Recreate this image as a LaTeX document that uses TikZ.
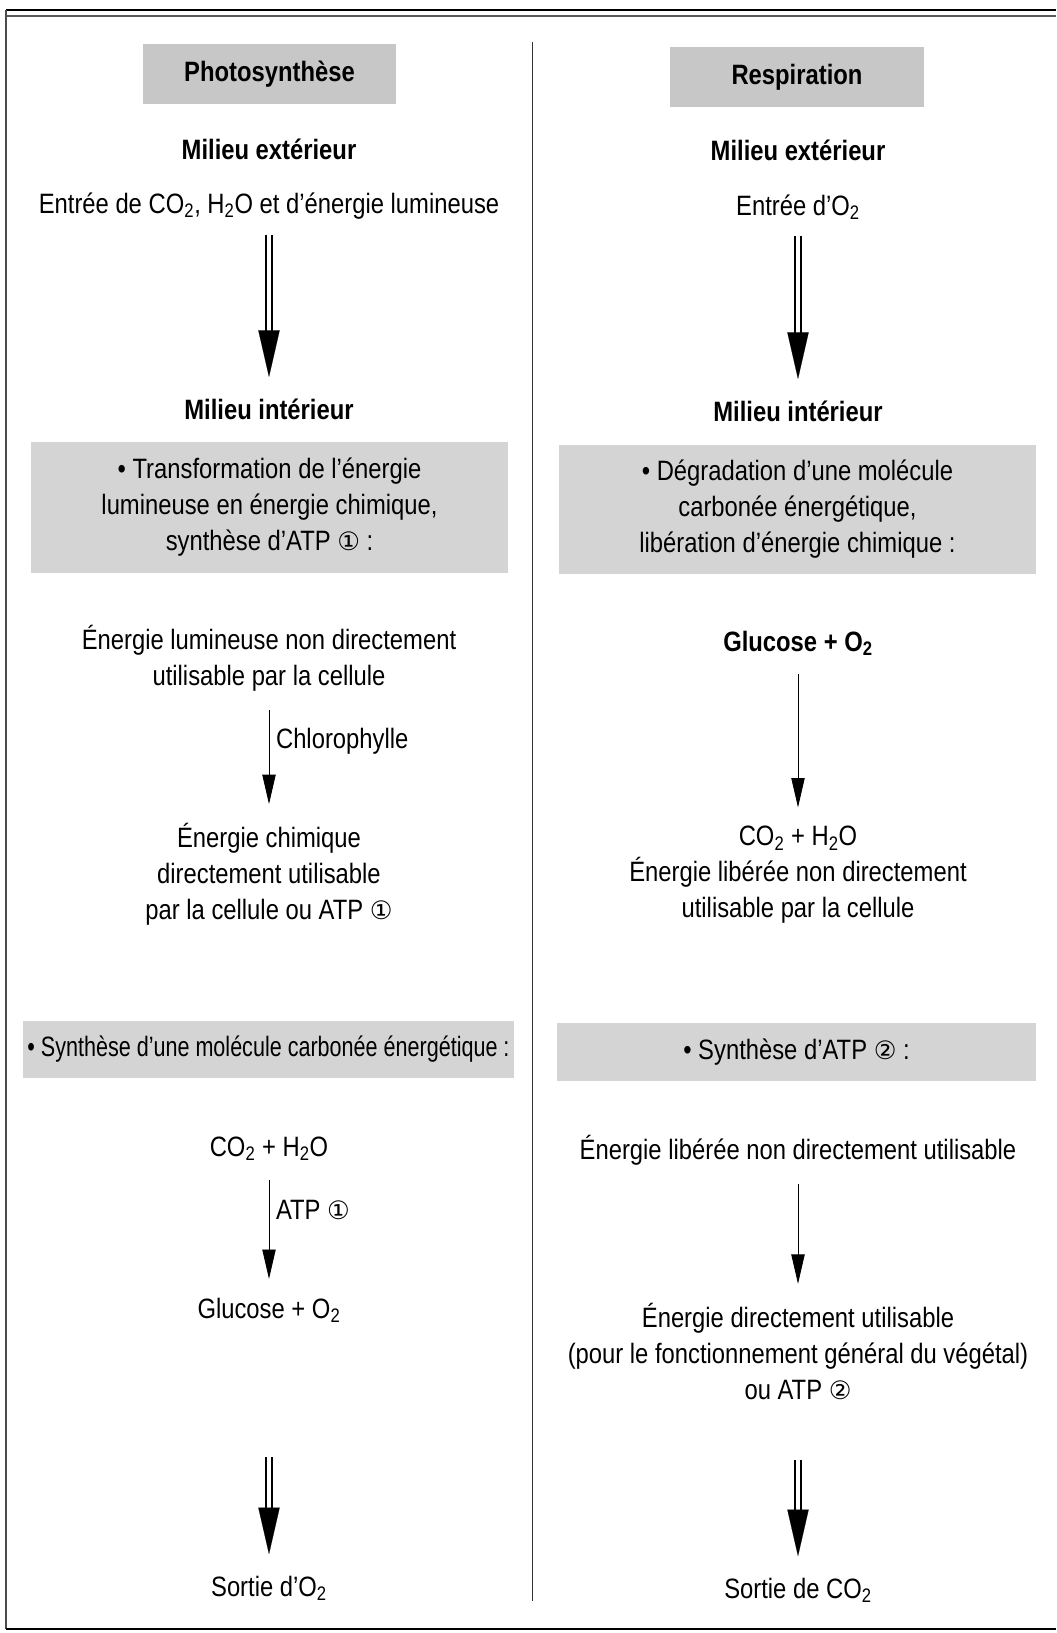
\documentclass[tikz,border=0pt]{standalone}
\usepackage{fontspec}
\setmainfont{Liberation Sans}[FakeStretch=0.85]
\newfontfamily\etroite{Liberation Sans}[FakeStretch=0.77]
\newfontfamily\symb{DejaVu Sans}
\usetikzlibrary{arrows.meta}
\newcommand{\indice}[1]{\textsubscript{#1}}
\newcommand{\cun}{{\symb\fontsize{19}{19}\selectfont ①}}
\newcommand{\cdeux}{{\symb\fontsize{19}{19}\selectfont ②}}

\tikzset{
  texte/.style={align=center, inner sep=0pt, font=\fontsize{21}{27}\selectfont},
  gras/.style={texte, font=\fontsize{21}{27}\selectfont\bfseries},
  titre/.style={gras, fill=black!22, minimum width=190pt, minimum height=45pt},
  cadre/.style={texte, fill=black!17},
  fleche/.style={-{Triangle[length=22pt,width=10pt]}, line width=0.6pt},
  grossefleche/.style={draw=white, line width=0.1pt, -{Triangle[length=35pt,width=16pt,black]},
    preaction={draw=black, -, double=white, double distance=2.8pt, line width=1.4pt, shorten >=30pt}}
}

\begin{document}
\begin{tikzpicture}[x=0.75pt,y=-0.75pt]
  \useasboundingbox (0,0) rectangle (1056,1633);
  \draw[line width=2.2pt] (6,10) -- (1056,10);
  \draw[line width=1pt, black!65] (6,16) -- (1056,16);
  \draw[line width=1.2pt, black!70] (6,10) -- (6,1629);
  \draw[line width=1.6pt] (6,1629) -- (1056,1629);
  \draw[line width=0.6pt, black!80] (532,42) -- (532,1601);

  \node[titre] (titreP) at (269.5,74) {Photosynthèse};
  \node[gras] (extP) at (269,149) {Milieu extérieur};
  \node[texte] (entP) at (269,206) {Entrée de CO\indice{2}, H\indice{2}O et d’énergie lumineuse};
  \node[gras] (intP) at (269,409) {Milieu intérieur};
  \node[cadre, minimum width=358pt, minimum height=98pt] (cadreP) at (269.5,507.5)
    {• Transformation de l’énergie\\lumineuse en énergie chimique,\\synthèse d’ATP \cun\ :};
  \node[texte] (lumP) at (269,658) {Énergie lumineuse non directement\\utilisable par la cellule};
  \node[texte] (chimP) at (269,874) {Énergie chimique\\directement utilisable\\par la cellule ou ATP \cun};
  \node[cadre, minimum width=368pt, minimum height=43pt, font=\fontsize{21}{27}\selectfont\etroite] (cadreP2) at (268.5,1049.5)
    {• Synthèse d’une molécule carbonée énergétique :};
  \node[texte] (coP) at (269,1149) {CO\indice{2} + H\indice{2}O};
  \node[texte] (gluP) at (269,1310) {Glucose + O\indice{2}};
  \node[texte] (sorP) at (269,1588) {Sortie d’O\indice{2}};

  \node[titre] (titreR) at (797,77.5) {Respiration};
  \node[gras] (extR) at (798,150) {Milieu extérieur};
  \node[texte] (entR) at (798,207) {Entrée d’O\indice{2}};
  \node[gras] (intR) at (798,411) {Milieu intérieur};
  \node[cadre, minimum width=358pt, minimum height=97pt] (cadreR) at (797.5,509.5)
    {• Dégradation d’une molécule\\carbonée énergétique,\\libération d’énergie chimique :};
  \node[gras] (gluR) at (798,643) {Glucose + O\indice{2}};
  \node[texte] (coR) at (798,875) {CO\indice{2} + H\indice{2}O\\Énergie libérée non directement\\utilisable par la cellule};
  \node[cadre, minimum width=359pt, minimum height=43.5pt] (cadreR2) at (796.5,1052)
    {• Synthèse d’ATP \cdeux\ :};
  \node[texte] (libR) at (798,1150) {Énergie libérée non directement utilisable};
  \node[texte] (dirR) at (798,1351) {Énergie directement utilisable\\(pour le fonctionnement général du végétal)\\ou ATP \cdeux};
  \node[texte] (sorR) at (798,1590) {Sortie de CO\indice{2}};

  \draw[grossefleche, shorten <=12pt, shorten >=16pt] (entP.south) -- (intP.north);
  \draw[grossefleche, shorten <=12pt, shorten >=16pt] (entR.south) -- (intR.north);
  \draw[fleche, shorten <=14pt, shorten >=14pt] (lumP.south) -- node[texte, right=5pt, pos=0.38] {Chlorophylle} (chimP.north);
  \draw[fleche, shorten <=14pt, shorten >=14pt] (gluR.south) -- (coR.north);
  \draw[fleche, shorten <=14pt, shorten >=14pt] (coP.south) -- node[texte, right=5pt, pos=0.36] {ATP \cun} (gluP.north);
  \draw[fleche, shorten <=14pt, shorten >=14pt] (libR.south) -- (dirR.north);
  \draw[grossefleche, shorten <=101pt, shorten >=16pt] (gluP.south) -- (sorP.north);
  \draw[grossefleche, shorten <=45pt, shorten >=16pt] (dirR.south) -- (sorR.north);
\end{tikzpicture}
\end{document}
